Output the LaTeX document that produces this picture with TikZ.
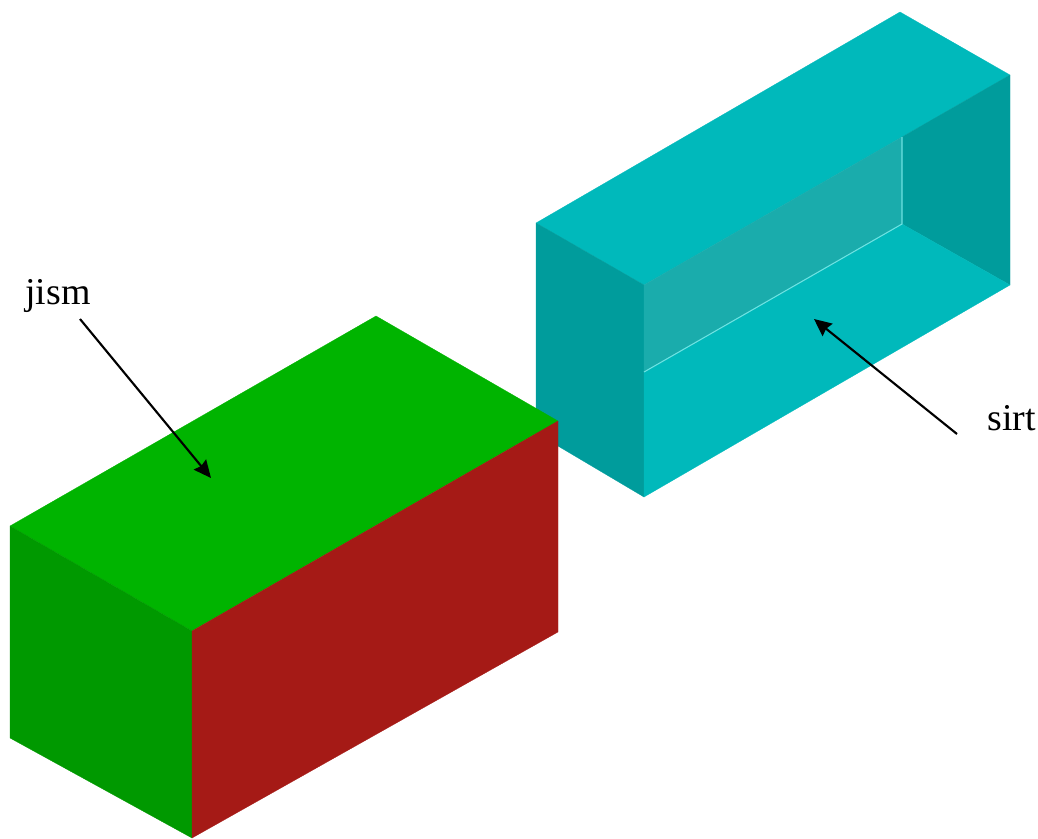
\documentclass[tikz,border=0pt]{standalone}
\usepackage{fontspec}
\setmainfont{Liberation Serif}
\usetikzlibrary{arrows.meta}
\definecolor{tealtop}{RGB}{0,185,187}
\definecolor{tealside}{RGB}{0,156,156}
\definecolor{tealback}{RGB}{26,172,172}
\definecolor{tealedge}{RGB}{110,226,226}
\definecolor{greentop}{RGB}{0,180,0}
\definecolor{greenside}{RGB}{0,153,0}
\definecolor{redside}{RGB}{165,26,22}
\tikzset{
  flowarrow/.style={-{Stealth[length=4.6mm,width=4.2mm,inset=0.5mm]}, line width=1.6pt},
  face/.style={fill=#1, draw=#1, line width=0.2pt, line join=round},
  innerline/.style={draw=tealedge, line width=0.8pt},
  relabel/.style={font=\fontsize{28.5}{30}\selectfont, text=black, inner sep=0pt}
}
\begin{document}
\begin{tikzpicture}[x=0.02646cm, y=-0.02646cm]
      \useasboundingbox (0,0) rectangle (1038,838);
      % hollow shell
      \coordinate (sa) at (900,12);
      \coordinate (sb) at (1010,75);
      \coordinate (sc) at (1010,285);
      \coordinate (sd) at (644,497);
      \coordinate (se) at (536,433);
      \coordinate (sf) at (536,223);
      \coordinate (sg) at (644,285);
      \coordinate (sh) at (644,372);
      \coordinate (si) at (902,224);
      \coordinate (sj) at (902,137);
      \fill[face=tealtop] (sa) -- (sb) -- (sj) -- (sg) -- (sf) -- cycle;
      \fill[face=tealside] (sf) -- (sg) -- (sd) -- (se) -- cycle;
      \fill[face=tealback] (sg) -- (sj) -- (si) -- (sh) -- cycle;
      \fill[face=tealside] (sj) -- (sb) -- (sc) -- (si) -- cycle;
      \fill[face=tealtop] (sh) -- (si) -- (sc) -- (sd) -- cycle;
      \draw[innerline] (sh) -- (si) -- (sj);
      % solid block
      \coordinate (ba) at (376,316);
      \coordinate (bb) at (558,421);
      \coordinate (bc) at (192,631);
      \coordinate (bd) at (10,526);
      \coordinate (be) at (10,738);
      \coordinate (bf) at (192,838);
      \coordinate (bg) at (558,632);
      \fill[face=greentop] (ba) -- (bb) -- (bc) -- (bd) -- cycle;
      \fill[face=greenside] (bd) -- (bc) -- (bf) -- (be) -- cycle;
      \fill[face=redside] (bc) -- (bb) -- (bg) -- (bf) -- cycle;
      % labels
      \node[relabel, anchor=base west] (jism) at (25,304) {jism};
      \node[relabel, anchor=base west] (sirt) at (987,430) {sirt};
      \coordinate (jismtail) at (80,319);
      \coordinate (jismtip) at (211,478);
      \coordinate (sirttail) at (957,434);
      \coordinate (sirttip) at (814,319);
      \draw[flowarrow] (jismtail) -- (jismtip);
      \draw[flowarrow] (sirttail) -- (sirttip);
    \end{tikzpicture}
\end{document}
